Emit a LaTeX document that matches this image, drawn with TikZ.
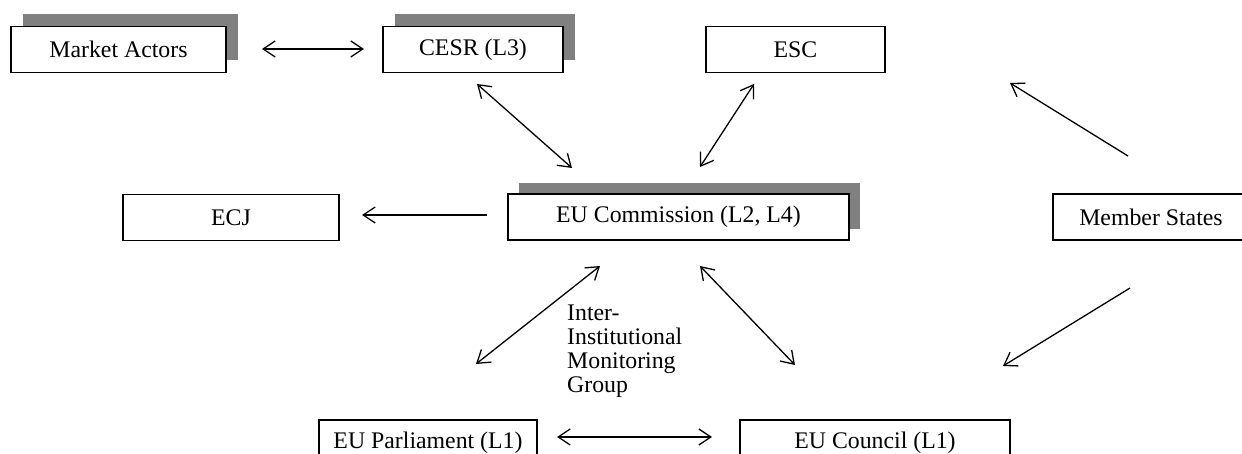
\documentclass[tikz,border=0pt]{standalone}
\usepackage{fontspec}
\setmainfont{Liberation Serif}
\usetikzlibrary{arrows.meta}
\begin{document}
\begin{tikzpicture}[x=1pt,y=-1pt,
  box/.style={draw=black,line width=1.6pt,fill=white,minimum height=46pt,inner sep=0pt,font=\fontsize{23.8}{28}\selectfont},
  shadowbox/.style={fill=black!50,draw=none,minimum height=46pt,inner sep=0pt},
  conn/.style={line width=1.3pt,-{Straight Barb[length=12pt,width=16pt,line width=1.3pt]}},
  dconn/.style={line width=1.3pt,{Straight Barb[length=12pt,width=16pt,line width=1.3pt]}-{Straight Barb[length=12pt,width=16pt,line width=1.3pt]}}]
\useasboundingbox (0,0) rectangle (1242,454);
\clip (0,0) rectangle (1242,454);
% shadows
\node[shadowbox,minimum width=215pt] (mas) at (130.5,37.5) {};
\node[shadowbox,minimum width=180pt] (ces) at (485,37.5) {};
\node[shadowbox,minimum width=341pt] (cos) at (689.5,206) {};
% boxes
\node[box,minimum width=215pt] (ma) at (118.5,49.5) {Market Actors};
\node[box,minimum width=180pt] (ce) at (473,49.5) {CESR (L3)};
\node[box,minimum width=179pt] (es) at (795.5,49.5) {ESC};
\node[box,minimum width=216pt] (ecj) at (231,217.5) {ECJ};
\node[box,minimum width=341pt] (co) at (678.5,217) {EU Commission (L2, L4)};
\node[box,minimum width=196pt] (ms) at (1151,217) {Member States};
\node[box,minimum width=218pt] (pa) at (428,443) {EU Parliament (L1)};
\node[box,minimum width=270pt] (cn) at (875,443) {EU Council (L1)};
% label
\node[anchor=north west,align=left,inner sep=0pt,font=\fontsize{23.8}{24}\selectfont] (ig) at (567,305) {Inter-\\Institutional\\Monitoring\\Group};
% connector endpoints
\coordinate (a1) at (262,49);  \coordinate (a2) at (364,49);
\coordinate (b1) at (477,84);  \coordinate (b2) at (572,168);
\coordinate (c1) at (754,84);  \coordinate (c2) at (700,167);
\coordinate (d1) at (1128,156); \coordinate (d2) at (1010,83);
\coordinate (e1) at (487,215); \coordinate (e2) at (362,215);
\coordinate (f1) at (600,266); \coordinate (f2) at (476,364);
\coordinate (g1) at (700,266); \coordinate (g2) at (795,365);
\coordinate (h1) at (1130,288); \coordinate (h2) at (1003,366);
\coordinate (i1) at (557,437); \coordinate (i2) at (712,437);
\draw[dconn] (a1) -- (a2);
\draw[dconn] (b1) -- (b2);
\draw[dconn] (c1) -- (c2);
\draw[conn] (d1) -- (d2);
\draw[conn] (e1) -- (e2);
\draw[dconn] (f1) -- (f2);
\draw[dconn] (g1) -- (g2);
\draw[conn] (h1) -- (h2);
\draw[dconn] (i1) -- (i2);
\end{tikzpicture}
\end{document}
